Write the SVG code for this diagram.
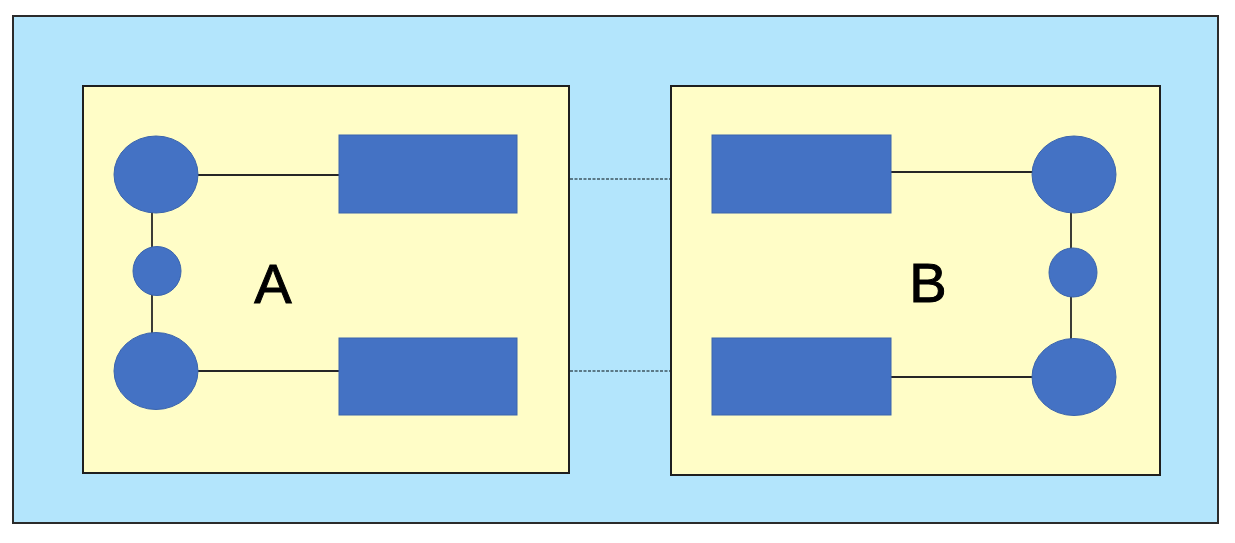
<svg xmlns="http://www.w3.org/2000/svg" width="1235" height="543" viewBox="0 0 1235 543">
<style>
.frame{fill:#B3E5FC;stroke:#2b2b2b;stroke-width:2}
.box{fill:#FFFDC7;stroke:#1f1f1f;stroke-width:2}
.node{fill:#4472C4;stroke:#3a64ad;stroke-width:1}
.line{stroke:#262626;stroke-width:1.8;fill:none}
.dash{stroke:#3f5560;stroke-width:1.3;stroke-dasharray:3 1.5;fill:none}
.lbl{font-family:"Liberation Sans",Arial,sans-serif;font-size:56px;fill:#000;stroke:#000;stroke-width:1}
</style>
<rect width="1235" height="543" fill="#fff"/>
<rect class="frame" x="13" y="16" width="1205" height="507"/>
<g id="groupA">
<rect class="box" x="83" y="86" width="486" height="387"/>
</g>
<g id="groupB">
<rect class="box" x="671" y="86" width="489" height="389"/>
</g>
<g id="connectors">
<line class="line" x1="198" y1="175" x2="339" y2="175"/>
<line class="line" x1="198" y1="371" x2="339" y2="371"/>
<line class="line" x1="152" y1="212" x2="152" y2="334"/>
<line class="line" x1="891" y1="172" x2="1033" y2="172"/>
<line class="line" x1="891" y1="377" x2="1033" y2="377"/>
<line class="line" x1="1071" y1="212" x2="1071" y2="340"/>
<line class="dash" x1="570" y1="179" x2="670" y2="179"/>
<line class="dash" x1="570" y1="371" x2="670" y2="371"/>
</g>
<g id="A-circle-top"><ellipse class="node" cx="156" cy="174.5" rx="42" ry="38.5"/></g>
<g id="A-circle-mid"><ellipse class="node" cx="157" cy="271" rx="24" ry="24.5"/></g>
<g id="A-circle-bottom"><ellipse class="node" cx="156" cy="371" rx="42" ry="38.5"/></g>
<g id="A-rect-top"><rect class="node" x="339" y="135" width="178" height="78" stroke="none"/></g>
<g id="A-rect-bottom"><rect class="node" x="339" y="338" width="178" height="77" stroke="none"/></g>
<g id="A-label"><text class="lbl" x="273" y="303" text-anchor="middle">A</text></g>
<g id="B-rect-top"><rect class="node" x="712" y="135" width="179" height="78" stroke="none"/></g>
<g id="B-rect-bottom"><rect class="node" x="712" y="338" width="179" height="77" stroke="none"/></g>
<g id="B-circle-top"><ellipse class="node" cx="1074" cy="174.5" rx="42" ry="38.5"/></g>
<g id="B-circle-mid"><ellipse class="node" cx="1073" cy="272.5" rx="24" ry="24.5"/></g>
<g id="B-circle-bottom"><ellipse class="node" cx="1074" cy="377" rx="42" ry="38.5"/></g>
<g id="B-label"><text class="lbl" x="928" y="302" text-anchor="middle">B</text></g>
</svg>
